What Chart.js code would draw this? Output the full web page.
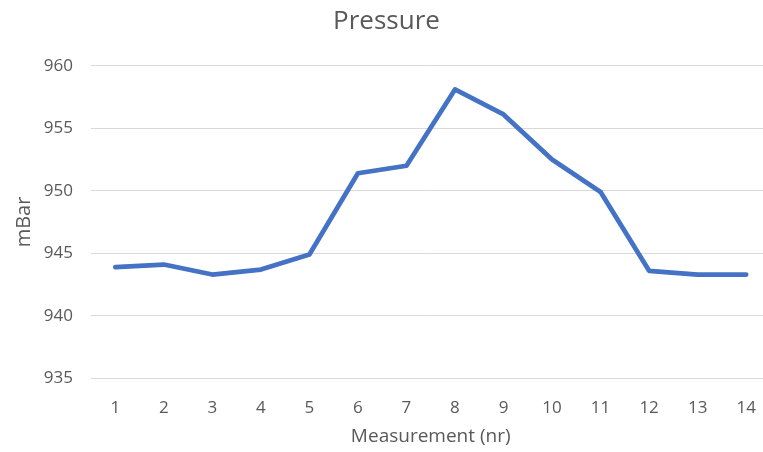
<!DOCTYPE html>
<html>
<head>
<meta charset="utf-8">
<title>Pressure</title>
<script src="https://cdn.jsdelivr.net/npm/chart.js@4.4.1/dist/chart.umd.min.js"></script>
<style>
  html, body { margin: 0; padding: 0; background: #ffffff; overflow: hidden; }
  #wrap { position: relative; width: 776px; height: 452px; }
</style>
</head>
<body>
<div id="wrap"><canvas id="chart"></canvas></div>
<script>
// Measurement numbers along the x axis
const measurements = ['1', '2', '3', '4', '5', '6', '7', '8', '9', '10', '11', '12', '13', '14'];
// Pressure readings in mBar
const pressure = [943.9, 944.1, 943.3, 943.7, 944.9, 951.4, 952.0, 958.1, 956.1, 952.5, 949.9, 943.6, 943.3, 943.3];
// Value axis range and step
const yMin = 935;
const yMax = 960;
const yStep = 5;

const textGrey = '#595959';
const gridGrey = '#d9d9d9';
const fontFamily = '"Open Sans", "Liberation Sans", sans-serif';

new Chart(document.getElementById('chart'), {
  type: 'line',
  data: {
    labels: measurements,
    datasets: [{
      label: 'Pressure',
      data: pressure,
      borderColor: '#4472c4',
      backgroundColor: '#4472c4',
      borderWidth: 4.75,
      borderJoinStyle: 'round',
      borderCapStyle: 'round',
      pointRadius: 0,
      pointHoverRadius: 0,
      tension: 0,
      fill: false
    }]
  },
  options: {
    responsive: true,
    maintainAspectRatio: false,
    animation: false,
    devicePixelRatio: 1,
    layout: { padding: { left: 0, right: 3, top: 0, bottom: 0 } },
    plugins: {
      legend: { display: false },
      tooltip: { enabled: false },
      title: {
        display: true,
        text: 'Pressure',
        color: textGrey,
        font: { family: fontFamily, size: 26, weight: 'normal' },
        padding: { top: 6, bottom: 28.5 }
      }
    },
    scales: {
      x: {
        type: 'category',
        offset: true,
        grid: { display: false, drawTicks: false },
        border: { display: true, color: gridGrey, width: 1 },
        ticks: {
          color: textGrey,
          padding: 20,
          maxRotation: 0,
          autoSkip: false,
          font: { family: fontFamily, size: 17 }
        },
        title: {
          display: true,
          text: 'Measurement (nr)',
          color: textGrey,
          font: { family: fontFamily, size: 19 },
          padding: { top: 0, bottom: 4 }
        },
        afterFit: (scale) => { scale.height = 73.7; }
      },
      y: {
        min: yMin,
        max: yMax,
        grid: { color: gridGrey, lineWidth: 1, drawTicks: false },
        border: { display: false },
        ticks: {
          stepSize: yStep,
          color: textGrey,
          padding: 18,
          font: { family: fontFamily, size: 17 }
        },
        title: {
          display: true,
          text: 'mBar',
          color: textGrey,
          font: { family: fontFamily, size: 20 },
          padding: { top: 12, bottom: 0 }
        },
        afterFit: (scale) => { scale.width = 91; }
      }
    }
  }
});
</script>
</body>
</html>
